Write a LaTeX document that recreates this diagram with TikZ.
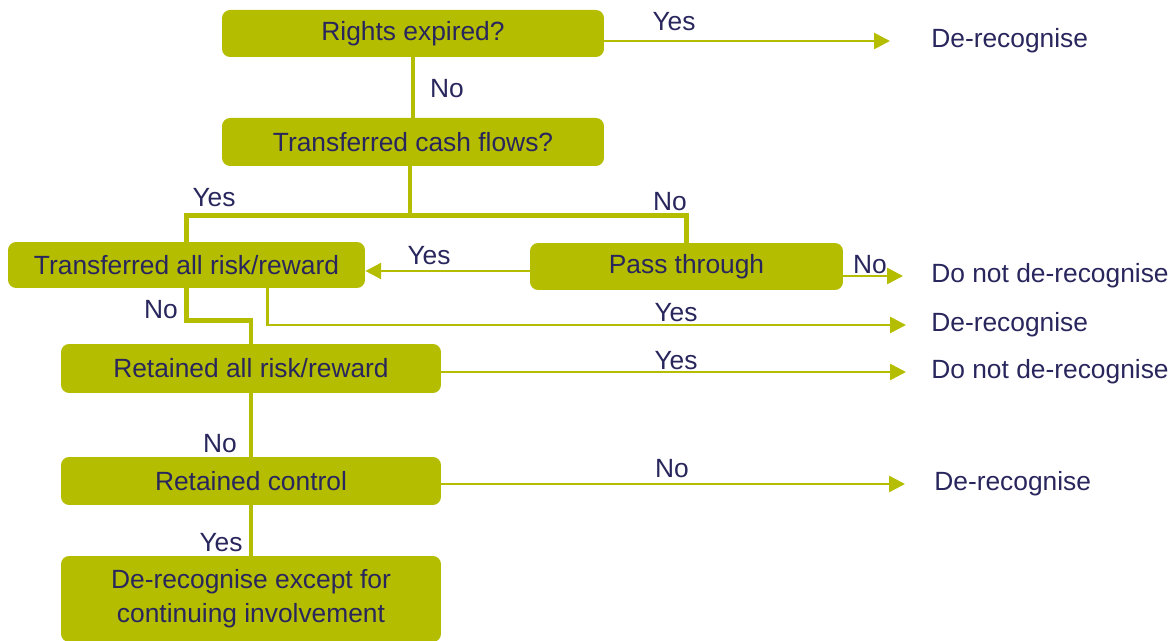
\documentclass[tikz,border=0pt]{standalone}
\usepackage{fontspec}
\setmainfont{Liberation Sans}
\usetikzlibrary{arrows.meta}
\definecolor{olive}{RGB}{181,189,0}
\definecolor{ink}{RGB}{40,38,92}
\tikzset{
  box/.style={fill=olive, rounded corners=0.16cm, text=ink, inner sep=0pt, align=center},
  lbl/.style={text=ink, inner sep=0pt},
  res/.style={text=ink, inner sep=0pt, anchor=west},
  flow/.style={draw=olive, line width=2.6pt},
  link/.style={draw=olive, line width=1.5pt},
  arr/.style={link, -{Triangle[length=9pt,width=9pt]}},
}
\begin{document}
\begin{tikzpicture}[x=0.02cm, y=-0.02cm, font=\fontsize{15}{19.3}\selectfont]
  \useasboundingbox (0,0) rectangle (1173,641);
  \clip (0,0) rectangle (1173,641);
  \path
    (413,33.5) node[box, minimum width=7.64cm, minimum height=0.94cm] (re) {Rights expired?}
    (413,142) node[box, minimum width=7.64cm, minimum height=0.96cm] (cf) {Transferred cash flows?}
    (186.5,265) node[box, minimum width=7.14cm, minimum height=0.92cm] (tar) {Transferred all risk/reward}
    (686.5,266.5) node[box, minimum width=6.26cm, minimum height=0.94cm] (pt) {Pass through}
    (251,368.5) node[box, minimum width=7.6cm, minimum height=0.98cm] (rar) {Retained all risk/reward}
    (251,481) node[box, minimum width=7.6cm, minimum height=0.96cm] (rc) {Retained control}
    (251,599) node[box, minimum width=7.6cm, minimum height=1.72cm] (fin) {De-recognise except for\\continuing involvement};
  \path
    (931,41) node[res] (d1) {De-recognise}
    (931,276) node[res] (d2) {Do not de-recognise}
    (931,325) node[res] (d3) {De-recognise}
    (931,372) node[res] (d4) {Do not de-recognise}
    (934,484) node[res] (d5) {De-recognise};
  \path
    (674,22) node[lbl] (y1) {Yes}
    (447,89) node[lbl] (n1) {No}
    (214,198) node[lbl] (y2) {Yes}
    (670,202) node[lbl] (n2) {No}
    (429,256) node[lbl] (y3) {Yes}
    (870,265) node[lbl] (n3) {No}
    (161,310) node[lbl] (n4) {No}
    (676,313) node[lbl] (y4) {Yes}
    (676,361) node[lbl] (y5) {Yes}
    (220,444) node[lbl] (n5) {No}
    (672,469) node[lbl] (n6) {No}
    (221,543) node[lbl] (y6) {Yes};
  \coordinate (split) at ([xshift=-0.06cm, yshift=-0.98cm]cf.south);
  \draw[flow] (re) -- (cf);
  \draw[flow] (cf.south -| split) -- (split);
  \draw[flow] (tar.north) |- (split) -| (pt.north);
  \draw[flow] (tar.south) -- ++(0,-0.64cm) -| (rar.north);
  \draw[flow] (rar) -- (rc);
  \draw[flow] (rc) -- (fin);
  \draw[arr, shorten >=0.82cm] (re.east |- d1.west) -- (d1.west);
  \draw[arr] ([yshift=-0.09cm]pt.west) -- ([yshift=-0.09cm]pt.west -| tar.east);
  \draw[arr, shorten >=0.56cm] (pt.east |- d2.west) -- (d2.west);
  \draw[arr, shorten >=0.5cm] ([xshift=1.62cm]tar.south) |- (d3.west);
  \draw[arr, shorten >=0.5cm] (rar.east |- d4.west) -- (d4.west);
  \draw[arr, shorten >=0.58cm] (rc.east |- d5.west) -- (d5.west);
\end{tikzpicture}
\end{document}
